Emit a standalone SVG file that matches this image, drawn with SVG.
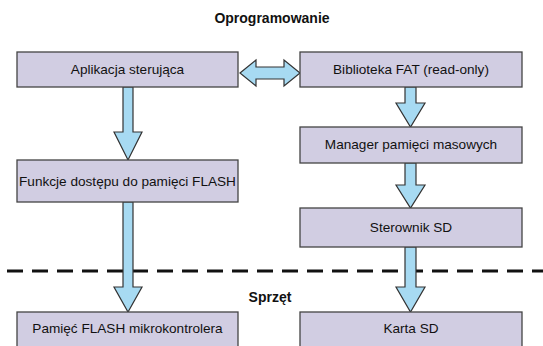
<svg xmlns="http://www.w3.org/2000/svg" width="543" height="346" viewBox="0 0 543 346">
<style>
.box{fill:#d1cde2;stroke:#444;stroke-width:1.3}
.lbl{font-family:"Liberation Sans",Arial,sans-serif;font-size:13.6px;fill:#111;text-anchor:middle}
.ttl{font-family:"Liberation Sans",Arial,sans-serif;font-size:14px;font-weight:bold;fill:#111;text-anchor:middle}
.arr{fill:#a7daf2;stroke:#333;stroke-width:1.2;stroke-linejoin:miter}
.dash{stroke:#111;stroke-width:3;stroke-dasharray:16,9}
</style>
<rect width="543" height="346" fill="#fff"/>
<text class="ttl" x="272" y="23">Oprogramowanie</text>
<line class="dash" x1="7" y1="271" x2="543" y2="271"/>
<text class="ttl" x="270" y="302">Sprzęt</text>
<g id="connectors">
<path class="arr" d="M123,87 H133 V132 H142 L128,160 L114,132 H123 Z"/>
<path class="arr" d="M123,202 H133 V287 H142 L128,312 L114,287 H123 Z"/>
<path class="arr" d="M405,87 H416 V103 H425 L410.5,127 L396,103 H405 Z"/>
<path class="arr" d="M405,163 H416 V185 H425 L410.5,208 L396,185 H405 Z"/>
<path class="arr" d="M405,247 H416 V287 H425 L410.5,312 L396,287 H405 Z"/>
<path class="arr" d="M240,73 L256,60 V67 H284 V60 L300,73 L284,86 V79 H256 V86 Z"/>
</g>
<g id="n1"><rect class="box" x="17" y="52" width="221" height="35"/><text class="lbl" x="127.5" y="74">Aplikacja sterująca</text></g>
<g id="n2"><rect class="box" x="300" y="52" width="222" height="35"/><text class="lbl" x="411" y="74">Biblioteka FAT (read-only)</text></g>
<g id="n3"><rect class="box" x="300" y="127" width="222" height="36"/><text class="lbl" x="411" y="149">Manager pamięci masowych</text></g>
<g id="n4"><rect class="box" x="17" y="160" width="221" height="42"/><text class="lbl" x="127.5" y="186">Funkcje dostępu do pamięci FLASH</text></g>
<g id="n5"><rect class="box" x="300" y="208" width="222" height="39"/><text class="lbl" x="411" y="232">Sterownik SD</text></g>
<g id="n6"><rect class="box" x="17" y="312" width="221" height="40"/><text class="lbl" x="127.5" y="333">Pamięć FLASH mikrokontrolera</text></g>
<g id="n7"><rect class="box" x="300" y="312" width="222" height="40"/><text class="lbl" x="411" y="333">Karta SD</text></g>
</svg>
